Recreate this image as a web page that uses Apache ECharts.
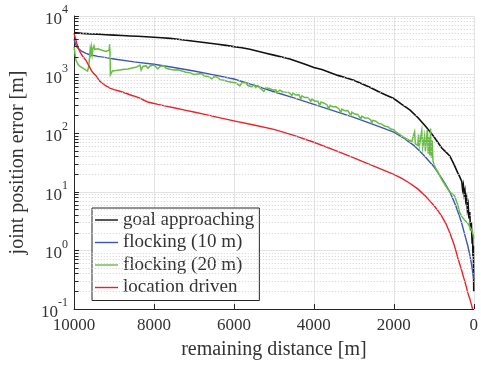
<!DOCTYPE html>
<html lang="en">
<head>
<meta charset="utf-8">
<style>
  html, body { margin: 0; padding: 0; background: #fff; }
  #container { width: 481px; height: 365px; }
</style>
</head>
<body>
<div id="container"></div>
<script src="https://cdn.jsdelivr.net/npm/echarts@6.0.0/dist/echarts.min.js"></script>
<script>
// [remaining distance, error] pairs
var goalApproaching = [[10000,5200],[9800,5050],[9600,4950],[9400,4900],[9200,4800],[9000,4720],[8800,4650],[8600,4560],[8400,4500],[8200,4430],[8000,4350],[7800,4250],[7600,4150],[7400,4000],[7200,3850],[7000,3700],[6800,3560],[6600,3420],[6400,3300],[6200,3150],[6000,3000],[5800,2880],[5600,2700],[5400,2500],[5200,2320],[5000,2150],[4800,2000],[4600,1850],[4400,1660],[4200,1480],[4000,1320],[3800,1220],[3600,1090],[3400,970],[3200,880],[3000,800],[2800,700],[2600,610],[2400,520],[2200,450],[2000,390],[1800,310],[1600,250],[1400,185],[1200,130],[1000,88],[900,70],[800,56],[700,48],[600,41],[500,30],[400,21],[350,18],[300,15],[280,11],[260,13],[240,9],[220,10.5],[200,7],[180,8],[160,5],[140,6],[120,3.5],[100,4.5],[80,2.2],[60,3],[40,1.3],[30,2],[20,0.8],[10,1.2],[5,0.5],[0,0.2]];

var flocking10 = [[10000,4000],[9960,3300],[9920,2900],[9870,2700],[9800,2480],[9700,2300],[9600,2180],[9400,2050],[9200,1950],[9000,1850],[8500,1650],[8000,1500],[7500,1320],[7000,1150],[6500,990],[6000,840],[5500,660],[5000,510],[4500,400],[4000,310],[3500,240],[3000,186],[2500,140],[2000,104],[1750,82],[1500,62],[1250,42],[1000,27],[900,21.5],[800,17],[700,13.2],[600,10],[500,7],[450,5.8],[400,4.6],[350,3.7],[300,2.9],[250,2.15],[200,1.6],[150,1.2],[100,0.85],[50,0.55],[0,0.32]];

var flocking20 = [[10000,3000],[9980,2400],[9950,1750],[9900,1500],[9850,1380],[9800,1300],[9750,1250],[9700,1200],[9660,1150],[9630,1400],[9610,2000],[9595,2700],[9580,2300],[9565,2900],[9545,2200],[9525,2800],[9500,3100],[9480,2700],[9450,2900],[9400,2750],[9350,2650],[9300,2600],[9250,2550],[9200,2480],[9150,2550],[9120,2600],[9110,3300],[9100,2500],[9090,1000],[9080,1050],[9040,1150],[9000,1100],[8950,1170],[8900,1130],[8850,1200],[8800,1160],[8750,1230],[8700,1180],[8650,1250],[8600,1200],[8550,1300],[8500,1220],[8450,1330],[8400,1250],[8350,1450],[8320,1200],[8280,1380],[8240,1300],[8200,1420],[8150,1280],[8100,1400],[8050,1330],[8000,1460],[7950,1350],[7900,1250],[7850,1380],[7800,1300],[7750,1420],[7700,1280],[7650,1350],[7600,1230],[7550,1320],[7500,1200],[7450,1290],[7400,1210],[7350,1250],[7300,1150],[7250,1230],[7200,1100],[7150,1180],[7100,1080],[7050,1120],[7000,1000],[6950,1070],[6900,1020],[6850,990],[6800,1040],[6750,950],[6700,980],[6650,930],[6600,960],[6550,850],[6500,920],[6450,870],[6400,900],[6350,820],[6300,870],[6250,800],[6200,840],[6150,760],[6100,810],[6050,740],[6000,780],[5950,720],[5900,760],[5850,640],[5800,730],[5750,690],[5700,720],[5650,650],[5600,700],[5550,620],[5500,680],[5450,600],[5400,650],[5350,590],[5300,620],[5250,520],[5200,600],[5150,560],
  [5100,575],[5075,560],[5050,585],[5025,548],[5000,560],[4975,535],[4950,552],[4925,500],[4900,540],[4875,528],[4850,545],[4825,515],[4800,520],[4775,505],[4750,470],[4725,510],[4700,498],[4675,512],[4650,485],[4625,495],[4600,478],[4575,490],[4550,440],[4525,482],[4500,462],[4475,470],[4450,448],[4425,458],[4400,440],[4375,452],[4350,430],[4325,385],[4300,432],[4275,418],[4250,426],[4225,405],[4200,410],[4175,396],[4150,405],[4125,388],[4100,392],[4075,350],[4050,385],[4025,370],[4000,362],[3975,352],[3950,366],[3925,340],[3900,350],[3875,335],[3850,300],[3825,338],[3800,330],[3775,318],[3750,328],[3725,312],[3700,318],[3675,305],[3650,312],[3625,262],[3600,300],[3575,292],[3550,298],[3525,284],[3500,288],[3475,276],[3450,282],[3425,268],[3400,274],[3375,262],[3350,270],[3325,225],[3300,258],[3275,250],[3250,256],[3225,242],[3200,246],[3175,238],[3150,244],[3125,230],[3100,236],[3075,200],[3050,228],[3025,218],[3000,220],[2975,212],[2950,216],[2925,205],[2900,208],[2875,198],[2850,204],[2825,175],[2800,196],[2775,188],[2750,192],[2725,182],[2700,186],[2675,178],[2650,182],[2625,172],[2600,176],[2575,168],[2550,150],[2525,166],[2500,164],[2475,158],[2450,160],[2425,150],[2400,153],[2375,146],[2350,150],[2325,140],[2300,143],[2275,136],[2250,139],[2225,131],[2200,133],[2175,126],[2150,129],[2125,122],[2100,124],[2075,118],[2050,120],[2025,114],[2000,115],
  [1950,105],[1900,100],[1850,95],[1800,92],[1750,85],[1700,84],[1650,78],[1600,80],[1550,72],[1500,70],[1480,105],[1460,66],[1420,64],[1400,62],[1380,95],[1360,60],[1320,58],[1300,110],[1280,56],[1250,52],[1230,90],[1210,50],[1180,48],[1160,115],[1140,45],[1120,85],[1100,42],[1080,120],[1060,38],[1040,75],[1020,34],[1000,30],[980,28],[950,25],[900,22],[811,16.6],[700,12.5],[605,10],[550,9.3],[480,8.5],[440,8.2],[400,6],[356,4.5],[300,3.8],[232,3.3],[150,2.9],[107,2.7],[50,2.2],[25,1.95],[0,1.6]];

var locationDriven = [[10000,5100],[9970,4300],[9930,3400],[9880,2700],[9830,2300],[9770,2000],[9700,1750],[9650,1500],[9600,1300],[9550,1130],[9500,1030],[9440,940],[9370,790],[9300,720],[9200,640],[9100,590],[9000,555],[8850,520],[8700,480],[8550,440],[8450,420],[8350,395],[8250,365],[8150,340],[8050,328],[7900,310],[7700,290],[7500,272],[7200,245],[7000,230],[6700,208],[6400,186],[6000,162],[5500,138],[5000,116],[4500,92],[4000,70],[3500,52],[3000,38],[2500,27.5],[2000,19.8],[1800,17],[1600,14],[1400,11.2],[1200,8.3],[1100,7],[1000,5.9],[900,4.8],[800,3.8],[700,2.9],[600,2.0],[500,1.3],[450,1.0],[400,0.75],[350,0.58],[300,0.45],[250,0.34],[200,0.26],[150,0.19],[100,0.15],[60,0.12],[30,0.1]];

var seriesNames = ['goal approaching', 'flocking (10 m)', 'flocking (20 m)', 'location driven'];
var seriesColors = ['#111111', '#3c57b3', '#68bd45', '#e8232a'];
var seriesWidths = [1.6, 1.4, 1.5, 1.4];
var decades = [0.1, 1, 10, 100, 1000];
var minorSteps = [2, 3, 4, 5, 6, 7, 8, 9];

var minorValues = [];
decades.forEach(function (d) {
  minorSteps.forEach(function (m) { minorValues.push(d * m); });
});

var fontFamily = 'Liberation Serif';
var textColor = '#333';

var chart = echarts.init(document.getElementById('container'), null, { renderer: 'canvas' });

var minorGrid = minorValues.map(function (v) { return { yAxis: v }; });
var minorTicks = minorValues.map(function (v) {
  return [{ coord: [10000, v] }, { coord: [9885, v] }];
});

var option = {
  animation: false,
  textStyle: { fontFamily: fontFamily },
  grid: { left: 74, right: 5, top: 16, bottom: 54 },
  legend: {
    data: seriesNames,
    orient: 'vertical',
    left: 92,
    top: 208,
    padding: [1, 5, 2, 3],
    itemGap: 0.5,
    itemWidth: 23,
    itemHeight: 14,
    icon: 'path://M0,6.3H23V7.7H0Z',
    backgroundColor: '#fff',
    borderColor: '#262626',
    borderWidth: 1,
    borderRadius: 0,
    textStyle: { fontFamily: fontFamily, fontSize: 19, color: textColor, lineHeight: 22 }
  },
  xAxis: {
    type: 'value',
    inverse: true,
    min: 0,
    max: 10000,
    interval: 2000,
    name: 'remaining distance [m]',
    nameLocation: 'middle',
    nameGap: 31,
    nameTextStyle: { fontFamily: fontFamily, fontSize: 20, color: textColor },
    axisLine: { onZero: false, lineStyle: { color: '#262626', width: 1 } },
    axisTick: { inside: true, length: 5, lineStyle: { color: '#262626' } },
    axisLabel: {
      fontFamily: fontFamily, fontSize: 17, color: textColor, margin: 8,
      formatter: function (v) { return String(v); }
    },
    splitLine: { show: true, lineStyle: { color: '#e3e3e3', width: 1 } }
  },
  yAxis: {
    type: 'log',
    logBase: 10,
    min: 0.1,
    max: 10000,
    name: 'joint position error [m]',
    nameLocation: 'middle',
    nameGap: 46,
    nameTextStyle: { fontFamily: fontFamily, fontSize: 20, color: textColor },
    axisLine: { show: true, onZero: false, lineStyle: { color: '#262626', width: 1 } },
    axisTick: { show: true, inside: true, length: 5, lineStyle: { color: '#262626' } },
    axisLabel: {
      margin: 6,
      formatter: function (v) {
        var e = Math.round(Math.log10(v));
        return '{b|10}{e|' + e + '}';
      },
      rich: {
        b: { fontFamily: fontFamily, fontSize: 17, color: textColor, lineHeight: 24, verticalAlign: 'bottom' },
        e: { fontFamily: fontFamily, fontSize: 12, color: textColor, lineHeight: 24, verticalAlign: 'top' }
      }
    },
    splitLine: { show: true, lineStyle: { color: '#e3e3e3', width: 1 } }
  },
  series: [
    {
      name: 'minor',
      type: 'line',
      data: [],
      silent: true,
      markLine: {
        silent: true,
        symbol: 'none',
        animation: false,
        label: { show: false },
        lineStyle: { color: '#d0d0d0', type: [1, 2], width: 1 },
        data: minorGrid
      }
    },
    {
      name: 'minorTicks',
      type: 'line',
      data: [],
      silent: true,
      markLine: {
        silent: true,
        symbol: 'none',
        animation: false,
        label: { show: false },
        lineStyle: { color: '#262626', type: 'solid', width: 1 },
        data: minorTicks
      }
    }
  ]
};

[goalApproaching, flocking10, flocking20, locationDriven].forEach(function (d, i) {
  option.series.push({
    name: seriesNames[i],
    type: 'line',
    data: d,
    symbol: 'none',
    showSymbol: false,
    clip: true,
    lineStyle: { color: seriesColors[i], width: seriesWidths[i], join: 'miter' },
    itemStyle: { color: seriesColors[i] }
  });
});

chart.setOption(option);
</script>
</body>
</html>
